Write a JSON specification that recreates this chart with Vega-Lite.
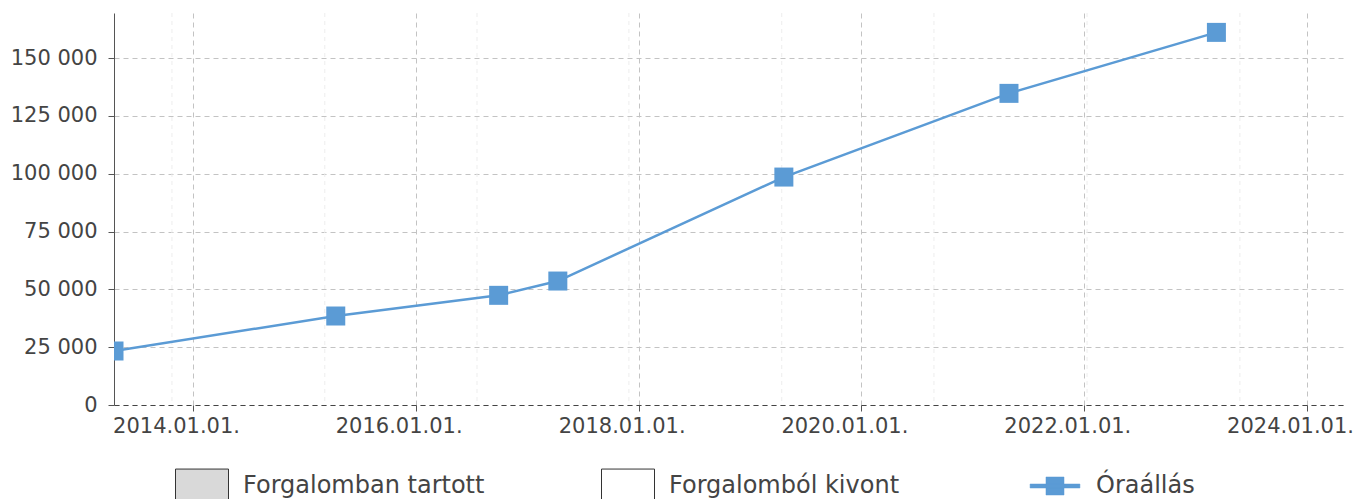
{
  "$schema": "https://vega.github.io/schema/vega-lite/v6.json",
  "width": 1229,
  "height": 392,
  "autosize": {"type": "none"},
  "padding": {"left": 114, "top": 13, "right": 12, "bottom": 94},
  "background": "#ffffff",
  "config": {"view": {"stroke": null}, "font": "DejaVu Sans"},
  "datasets": {
    "main": [
      {"date": "2013-04-17", "value": 23350, "s": "Óraállás"},
      {"date": "2015-04-14", "value": 38480, "s": "Óraállás"},
      {"date": "2016-09-29", "value": 47420, "s": "Óraállás"},
      {"date": "2017-04-11", "value": 53600, "s": "Óraállás"},
      {"date": "2019-04-22", "value": 98560, "s": "Óraállás"},
      {"date": "2021-04-29", "value": 134750, "s": "Óraállás"},
      {"date": "2023-03-10", "value": 161120, "s": "Óraállás"}
    ],
    "bars": [],
    "minor": [
      {"date": "2013-10-24"},
      {"date": "2015-03-09"},
      {"date": "2016-07-20"},
      {"date": "2017-11-30"},
      {"date": "2019-04-15"},
      {"date": "2020-08-26"},
      {"date": "2022-01-10"},
      {"date": "2023-05-26"}
    ]
  },
  "encoding": {
    "x": {
      "field": "date",
      "type": "temporal",
      "scale": {
        "type": "utc",
        "padding": 0,
        "domain": [
          {"year": 2013, "month": 4, "date": 17, "utc": true},
          {"year": 2024, "month": 4, "date": 28, "utc": true}
        ]
      },
      "axis": {
        "title": null,
        "values": [
          {"year": 2014, "month": 1, "date": 1, "utc": true},
          {"year": 2016, "month": 1, "date": 1, "utc": true},
          {"year": 2018, "month": 1, "date": 1, "utc": true},
          {"year": 2020, "month": 1, "date": 1, "utc": true},
          {"year": 2022, "month": 1, "date": 1, "utc": true},
          {"year": 2024, "month": 1, "date": 1, "utc": true}
        ],
        "format": "%Y.%m.%d.",
        "labelFont": "DejaVu Sans",
        "labelFontSize": 21,
        "labelColor": "#444444",
        "labelOffset": -17,
        "labelPadding": 4,
        "labelFlush": false,
        "labelOverlap": false,
        "tickSize": 6,
        "tickColor": "#555555",
        "grid": true,
        "gridColor": "#c3c3c3",
        "gridDash": [5, 4],
        "domainColor": "#444444",
        "domainDash": [5, 4]
      }
    }
  },
  "layer": [
    {
      "data": {"name": "minor"},
      "mark": {"type": "rule", "stroke": "#ededed", "strokeDash": [4, 4], "strokeWidth": 1}
    },
    {
      "data": {"name": "bars"},
      "mark": {"type": "bar", "width": 10},
      "encoding": {
        "y": {"field": "value", "type": "quantitative"},
        "fill": {
          "field": "cat",
          "type": "nominal",
          "scale": {
            "domain": ["Forgalomban tartott", "Forgalomból kivont"],
            "range": ["#d9d9d9", "#ffffff"]
          },
          "legend": {
            "title": null,
            "orient": "none",
            "legendX": 61,
            "legendY": 446,
            "direction": "horizontal",
            "columns": 2,
            "gridAlign": "all",
            "columnPadding": 114,
            "padding": 0,
            "symbolType": "M-1,-0.64H1V0.64H-1Z",
            "symbolSize": 2809,
            "symbolStrokeWidth": 1,
            "symbolStrokeColor": "#333333",
            "symbolOpacity": 1,
            "labelFont": "DejaVu Sans",
            "labelFontSize": 24,
            "labelColor": "#444444",
            "labelOffset": 14,
            "labelLimit": 400
          }
        }
      }
    },
    {
      "data": {"name": "main"},
      "mark": {"type": "line", "strokeWidth": 2.5, "clip": true},
      "encoding": {
        "y": {
          "field": "value",
          "type": "quantitative",
          "scale": {"domain": [0, 169500], "nice": false},
          "axis": {
            "title": null,
            "values": [0, 25000, 50000, 75000, 100000, 125000, 150000],
            "labelExpr": "replace(format(datum.value, ','), ',', ' ')",
            "labelFont": "DejaVu Sans",
            "labelFontSize": 21,
            "labelColor": "#444444",
            "labelPadding": 11,
            "tickSize": 6,
            "tickColor": "#555555",
            "grid": true,
            "gridColor": "#c3c3c3",
            "gridDash": [5, 4],
            "domainColor": "#555555"
          }
        },
        "color": {
          "field": "s",
          "type": "nominal",
          "scale": {"domain": ["Óraállás"], "range": ["#5b9bd5"]},
          "legend": {
            "title": null,
            "orient": "none",
            "legendX": 914,
            "legendY": 446,
            "padding": 0,
            "symbolSize": 2809,
            "symbolStrokeWidth": 0.5,
            "labelFont": "DejaVu Sans",
            "labelFontSize": 24,
            "labelColor": "#444444",
            "labelOffset": 14,
            "labelLimit": 400,
            "encode": {
              "symbols": {
                "update": {
                  "shape": {"value": "M-0.94,-0.075H0.94V0.075H-0.94Z M-0.34,-0.34H0.34V0.34H-0.34Z"},
                  "fill": {"value": "#5b9bd5"},
                  "opacity": {"value": 1},
                  "fillOpacity": {"value": 1}
                }
              }
            }
          }
        }
      }
    },
    {
      "data": {"name": "main"},
      "mark": {"type": "point", "shape": "square", "filled": true, "size": 361, "opacity": 1, "color": "#5b9bd5", "clip": true},
      "encoding": {
        "y": {"field": "value", "type": "quantitative"}
      }
    }
  ]
}
